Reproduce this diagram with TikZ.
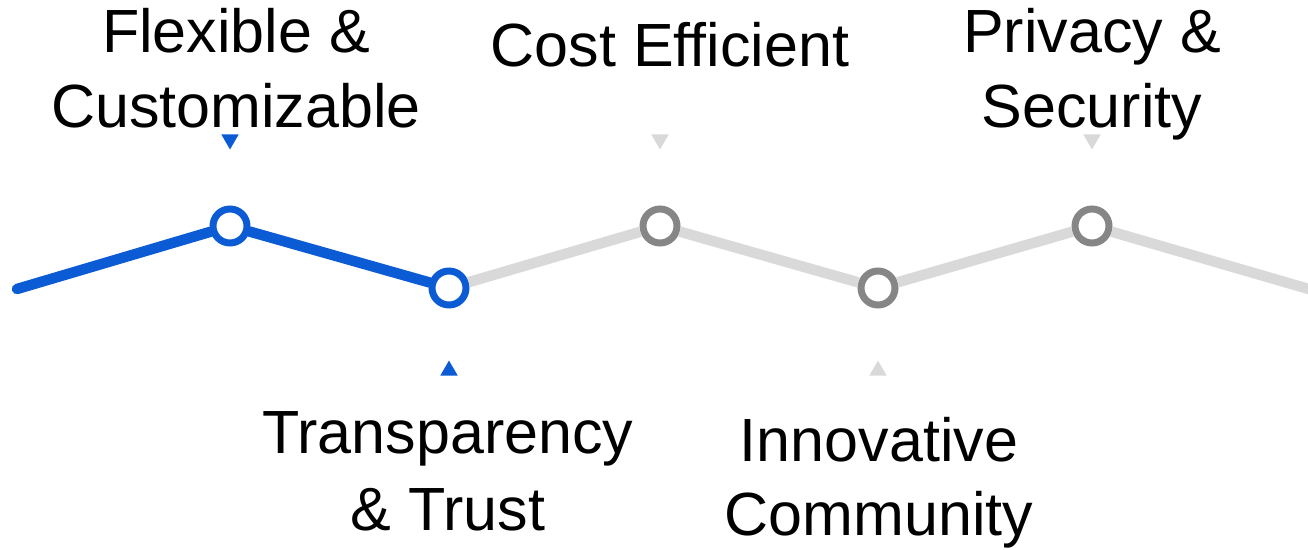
\documentclass[tikz,border=0pt]{standalone}
\usepackage{fontspec}
\setmainfont{Liberation Sans}
\usetikzlibrary{shapes.geometric,positioning}

\definecolor{stepblue}{RGB}{11,91,212}
\definecolor{tracklight}{RGB}{217,217,217}
\definecolor{ringgray}{RGB}{134,134,134}
\definecolor{tipgray}{RGB}{217,217,217}

\begin{document}
\begin{tikzpicture}[
    x=1pt, y=1pt,
    milestone/.style={circle, draw=#1, fill=white, line width=7pt, minimum size=34pt, inner sep=0pt},
    track/.style={draw=#1, line width=10.5pt},
    tipdown/.style={regular polygon, regular polygon sides=3, shape border rotate=180, fill=#1, minimum size=20pt, inner sep=0pt, outer sep=0pt},
    tipup/.style={regular polygon, regular polygon sides=3, fill=#1, minimum size=20pt, inner sep=0pt, outer sep=0pt},
    feature/.style={font=\fontsize{61}{#1}\selectfont, align=center, anchor=base, inner sep=0pt},
    feature/.default=75
]
\useasboundingbox (0,0) rectangle (1308,549);

% Milestones
\coordinate (start) at (17,260);
\node[milestone=stepblue] (flex) at (230,323) {};
\node[milestone=stepblue] (trans) at (449,261) {};
\node[milestone=ringgray] (cost) at (660,323) {};
\node[milestone=ringgray] (innov) at (878,261) {};
\node[milestone=ringgray] (priv) at (1092,323) {};
\coordinate (finish) at (1312,259);

% Track
\draw[track=stepblue, line cap=round] (start) -- (flex) -- (trans);
\draw[track=tracklight] (trans) -- (cost) -- (innov) -- (priv) -- (finish);

% Pointers
\node[tipdown=stepblue, above=56pt of flex] (flextip) {};
\node[tipup=stepblue, below=52pt of trans] (transtip) {};
\node[tipdown=tipgray, above=56pt of cost] (costtip) {};
\node[tipup=tipgray, below=52pt of innov] (innovtip) {};
\node[tipdown=tipgray, above=56pt of priv] (privtip) {};

% Labels
\node[feature] (flexlabel) at (236,421) {Flexible \&\\Customizable};
\node[feature] (costlabel) at (670,482) {Cost Efficient};
\node[feature] (privlabel) at (1092,421) {Privacy \&\\Security};
\node[feature=77] (translabel) at (448,19) {Transparency\\\& Trust};
\node[feature=74] (innovlabel) at (879,14) {Innovative\\Community};
\end{tikzpicture}
\end{document}
